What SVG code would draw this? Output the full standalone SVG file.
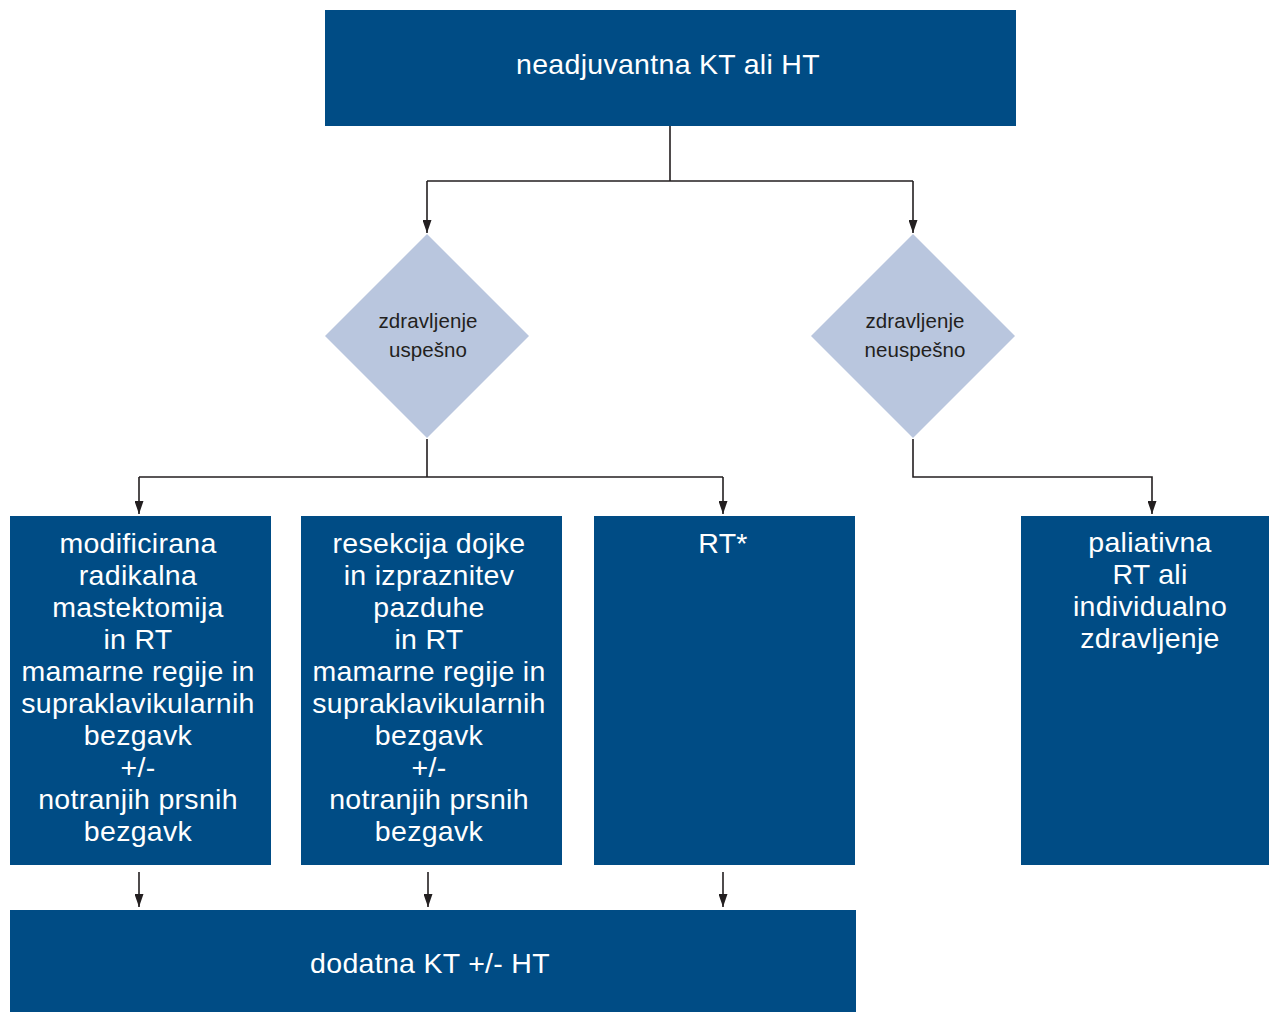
<svg xmlns="http://www.w3.org/2000/svg" width="1269" height="1012" viewBox="0 0 1269 1012">
<style>
.box{fill:#004C85}
.dia{fill:#B9C6DE}
.wt{fill:#FFFFFF;font-family:"Liberation Sans",Arial,sans-serif;font-size:28.5px;letter-spacing:0.3px;text-anchor:middle}
.dt{fill:#231F20;font-family:"Liberation Sans",Arial,sans-serif;font-size:20.5px;letter-spacing:0.1px;text-anchor:middle}
.ln{fill:none;stroke:#231F20;stroke-width:1.6}
</style>
<defs>
<marker id="ah2" viewBox="0 0 12 10" refX="12" refY="5" markerWidth="13" markerHeight="9" markerUnits="userSpaceOnUse" orient="auto" preserveAspectRatio="none">
<path d="M0,0 L12,5 L0,10 z" fill="#231F20"/>
</marker>
</defs>
<g id="connectors">
<path class="ln" d="M670,126 V181 M427,181 H913" />
<path class="ln" d="M427,181 V233" marker-end="url(#ah2)"/>
<path class="ln" d="M913,181 V233" marker-end="url(#ah2)"/>
<path class="ln" d="M427,439 V477 M139,477 H723"/>
<path class="ln" d="M139,477 V514" marker-end="url(#ah2)"/>
<path class="ln" d="M723,477 V514" marker-end="url(#ah2)"/>
<path class="ln" d="M913,439 V477 H1152 V514" marker-end="url(#ah2)"/>
<path class="ln" d="M139,872 V907" marker-end="url(#ah2)"/>
<path class="ln" d="M428,872 V907" marker-end="url(#ah2)"/>
<path class="ln" d="M723,872 V907" marker-end="url(#ah2)"/>
</g>
<g id="n_top">
<rect class="box" x="325" y="10" width="691" height="116"/>
<text class="wt" x="668" y="74">neadjuvantna KT ali HT</text>
</g>
<g id="n_uspesno">
<polygon class="dia" points="427,234 529,336 427,438 325,336"/>
<text class="dt" x="428" y="328">zdravljenje</text>
<text class="dt" x="428" y="357">uspešno</text>
</g>
<g id="n_neuspesno">
<polygon class="dia" points="913,234 1015,336 913,438 811,336"/>
<text class="dt" x="915" y="328">zdravljenje</text>
<text class="dt" x="915" y="357">neuspešno</text>
</g>
<g id="n_mrm">
<rect class="box" x="10" y="516" width="261" height="349"/>
<text class="wt" x="138" y="553">modificirana</text>
<text class="wt" x="138" y="585">radikalna</text>
<text class="wt" x="138" y="617">mastektomija</text>
<text class="wt" x="138" y="649">in RT</text>
<text class="wt" x="138" y="681">mamarne regije in</text>
<text class="wt" x="138" y="713">supraklavikularnih</text>
<text class="wt" x="138" y="745">bezgavk</text>
<text class="wt" x="138" y="777">+/-</text>
<text class="wt" x="138" y="809">notranjih prsnih</text>
<text class="wt" x="138" y="841">bezgavk</text>
</g>
<g id="n_resekcija">
<rect class="box" x="301" y="516" width="261" height="349"/>
<text class="wt" x="429" y="553">resekcija dojke</text>
<text class="wt" x="429" y="585">in izpraznitev</text>
<text class="wt" x="429" y="617">pazduhe</text>
<text class="wt" x="429" y="649">in RT</text>
<text class="wt" x="429" y="681">mamarne regije in</text>
<text class="wt" x="429" y="713">supraklavikularnih</text>
<text class="wt" x="429" y="745">bezgavk</text>
<text class="wt" x="429" y="777">+/-</text>
<text class="wt" x="429" y="809">notranjih prsnih</text>
<text class="wt" x="429" y="841">bezgavk</text>
</g>
<g id="n_rt">
<rect class="box" x="594" y="516" width="261" height="349"/>
<text class="wt" x="723" y="553">RT*</text>
</g>
<g id="n_paliativna">
<rect class="box" x="1021" y="516" width="260" height="349"/>
<text class="wt" x="1150" y="552">paliativna</text>
<text class="wt" x="1150" y="584">RT ali</text>
<text class="wt" x="1150" y="616">individualno</text>
<text class="wt" x="1150" y="648">zdravljenje</text>
</g>
<g id="n_dodatna">
<rect class="box" x="10" y="910" width="846" height="102"/>
<text class="wt" x="430" y="973">dodatna KT +/- HT</text>
</g>
</svg>
